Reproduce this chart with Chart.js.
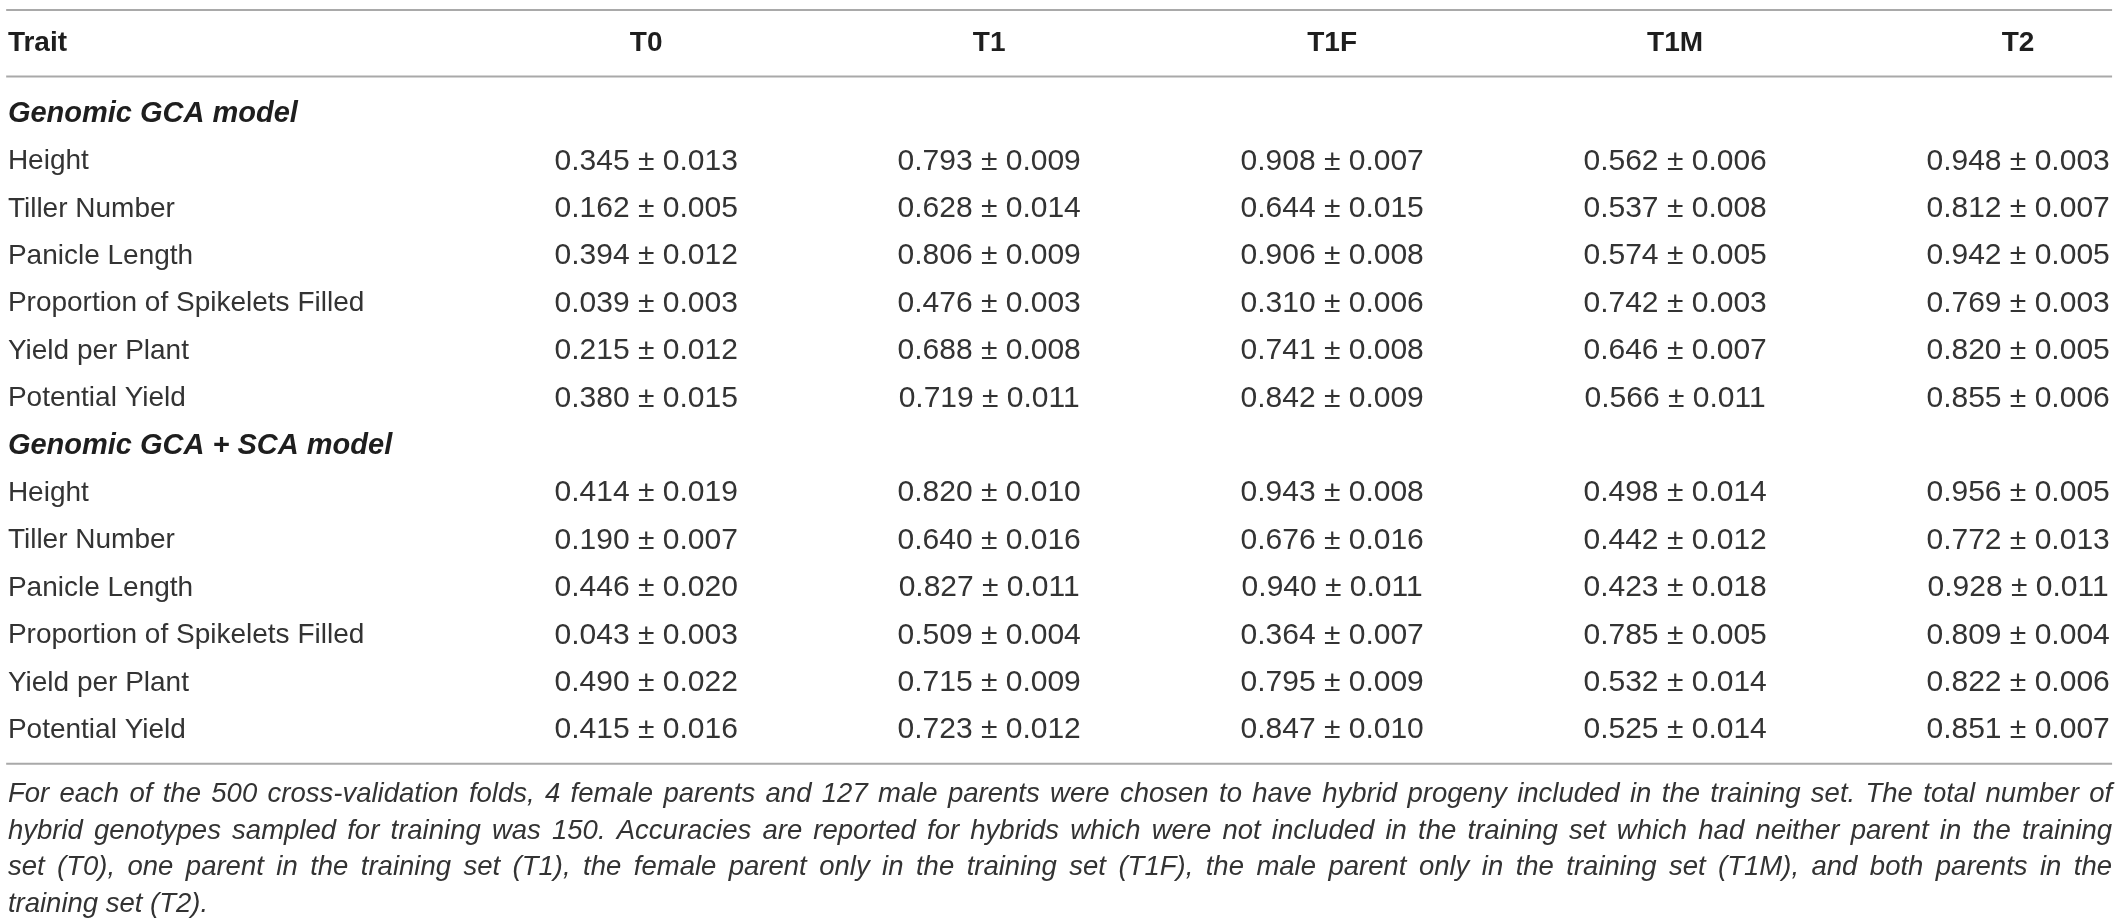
<!DOCTYPE html>
<html>
<head>
<meta charset="utf-8">
<script src="https://cdn.jsdelivr.net/npm/chart.js@4.4.0/dist/chart.umd.min.js"></script>
<style>
  html, body { margin: 0; padding: 0; background: #fff; overflow: hidden; }
</style>
</head>
<body>
<canvas id="accuracyTable" width="2121" height="924"></canvas>
<script>
'use strict';

// Table content
const columns = ['T0', 'T1', 'T1F', 'T1M', 'T2'];
const traits = ['Height', 'Tiller Number', 'Panicle Length', 'Proportion of Spikelets Filled', 'Yield per Plant', 'Potential Yield'];
const sections = ['Genomic GCA model', 'Genomic GCA + SCA model'];

// Genomic GCA model: mean accuracy and standard error, one row per trait
const gcaMean = [
    [0.345, 0.793, 0.908, 0.562, 0.948],
    [0.162, 0.628, 0.644, 0.537, 0.812],
    [0.394, 0.806, 0.906, 0.574, 0.942],
    [0.039, 0.476, 0.310, 0.742, 0.769],
    [0.215, 0.688, 0.741, 0.646, 0.820],
    [0.380, 0.719, 0.842, 0.566, 0.855]
];
const gcaSe = [
    [0.013, 0.009, 0.007, 0.006, 0.003],
    [0.005, 0.014, 0.015, 0.008, 0.007],
    [0.012, 0.009, 0.008, 0.005, 0.005],
    [0.003, 0.003, 0.006, 0.003, 0.003],
    [0.012, 0.008, 0.008, 0.007, 0.005],
    [0.015, 0.011, 0.009, 0.011, 0.006]
];

// Genomic GCA + SCA model
const scaMean = [
    [0.414, 0.820, 0.943, 0.498, 0.956],
    [0.190, 0.640, 0.676, 0.442, 0.772],
    [0.446, 0.827, 0.940, 0.423, 0.928],
    [0.043, 0.509, 0.364, 0.785, 0.809],
    [0.490, 0.715, 0.795, 0.532, 0.822],
    [0.415, 0.723, 0.847, 0.525, 0.851]
];
const scaSe = [
    [0.019, 0.010, 0.008, 0.014, 0.005],
    [0.007, 0.016, 0.016, 0.012, 0.013],
    [0.020, 0.011, 0.011, 0.018, 0.011],
    [0.003, 0.004, 0.007, 0.005, 0.004],
    [0.022, 0.009, 0.009, 0.014, 0.006],
    [0.016, 0.012, 0.010, 0.014, 0.007]
];

const footnote = [
    'For each of the 500 cross-validation folds, 4 female parents and 127 male parents were chosen to have hybrid progeny included in the training set. The total number of',
    'hybrid genotypes sampled for training was 150. Accuracies are reported for hybrids which were not included in the training set which had neither parent in the training',
    'set (T0), one parent in the training set (T1), the female parent only in the training set (T1F), the male parent only in the training set (T1M), and both parents in the',
    'training set (T2).'
];

// x: 0 = trait column, 1..5 = value columns; y: table row index
const leftEdge = -0.861;
const ruleLeft = -0.866;
const ruleRight = 5.274;
const headerRow = -1.5;
const ruleRows = [-2.15, -0.75, 13.75];
const footRow = 14.36;
const footStep = 0.77;

const fmt = (m, s) => `${m.toFixed(3)} \u00b1 ${s.toFixed(3)}`;

// Build table cells
let headerCells = [{ x: leftEdge, y: headerRow, text: 'Trait', align: 'left' }];
columns.forEach((c, i) => headerCells.push({ x: i + 1, y: headerRow, text: c }));

let sectionCells = [];
let labelCells = [];
let valueCells = [];
[[gcaMean, gcaSe], [scaMean, scaSe]].forEach(([means, ses], s) => {
    const base = s * (traits.length + 1);
    sectionCells.push({ x: leftEdge, y: base, text: sections[s] });
    traits.forEach((t, r) => {
        labelCells.push({ x: leftEdge, y: base + r + 1, text: t });
        means[r].forEach((m, c) => {
            valueCells.push({ x: c + 1, y: base + r + 1, text: fmt(m, ses[r][c]) });
        });
    });
});

const footCells = footnote.map((line, i) => ({
    x: leftEdge, y: footRow + i * footStep, text: line, last: i === footnote.length - 1
}));

const ruleSets = ruleRows.map(r => ({
    data: [{ x: ruleLeft, y: r }, { x: ruleRight, y: r }],
    showLine: true,
    borderColor: '#a9a9a9',
    borderWidth: 2,
    pointRadius: 0
}));

const textSet = (data, font, color, align) => ({
    data: data,
    pointRadius: 0,
    pointHitRadius: 0,
    showLine: false,
    textFont: font,
    textColor: color,
    textAlign: align
});

// Draws the text of each cell at the point the scales give it
const cellText = {
    id: 'cellText',
    afterDatasetsDraw(chart) {
        const ctx = chart.ctx;
        const right = chart.scales.x.getPixelForValue(ruleRight);
        chart.data.datasets.forEach((ds, di) => {
            if (!ds.textFont) return;
            const meta = chart.getDatasetMeta(di);
            ctx.save();
            ctx.font = ds.textFont;
            ctx.fillStyle = ds.textColor;
            ctx.textBaseline = 'middle';
            meta.data.forEach((el, i) => {
                const cell = ds.data[i];
                const y = el.y + 2;
                if (ds.justify && !cell.last) {
                    // justified paragraph line
                    const words = cell.text.split(' ');
                    const widths = words.map(w => ctx.measureText(w).width);
                    const total = widths.reduce((a, b) => a + b, 0);
                    const gap = (right - el.x - total) / (words.length - 1);
                    let x = el.x;
                    ctx.textAlign = 'left';
                    words.forEach((w, k) => {
                        ctx.fillText(w, x, y);
                        x += widths[k] + gap;
                    });
                } else {
                    ctx.textAlign = cell.align || ds.textAlign;
                    ctx.fillText(cell.text, el.x, y);
                }
            });
            ctx.restore();
        });
    }
};

const footSet = textSet(footCells, 'italic 27.5px "Liberation Sans", Arial, sans-serif', '#333333', 'left');
footSet.justify = true;

const ctx = document.getElementById('accuracyTable');
const accuracyTable = new Chart(ctx, {
    type: 'scatter',
    data: {
        datasets: [
            ...ruleSets,
            textSet(headerCells, 'bold 28px "Liberation Sans", Arial, sans-serif', '#1e1e1e', 'center'),
            textSet(sectionCells, 'italic bold 29px "Liberation Sans", Arial, sans-serif', '#1e1e1e', 'left'),
            textSet(labelCells, '28px "Liberation Sans", Arial, sans-serif', '#333333', 'left'),
            textSet(valueCells, '30px "Liberation Sans", Arial, sans-serif', '#333333', 'center'),
            footSet
        ]
    },
    options: {
        responsive: false,
        animation: false,
        devicePixelRatio: 1,
        layout: { padding: 0 },
        plugins: {
            legend: { display: false },
            tooltip: { enabled: false }
        },
        events: [],
        scales: {
            x: { type: 'linear', display: false, min: -0.884, max: 5.3 },
            y: { type: 'linear', display: false, min: -2.363, max: 17.131, reverse: true }
        }
    },
    plugins: [cellText]
});
</script>
</body>
</html>
